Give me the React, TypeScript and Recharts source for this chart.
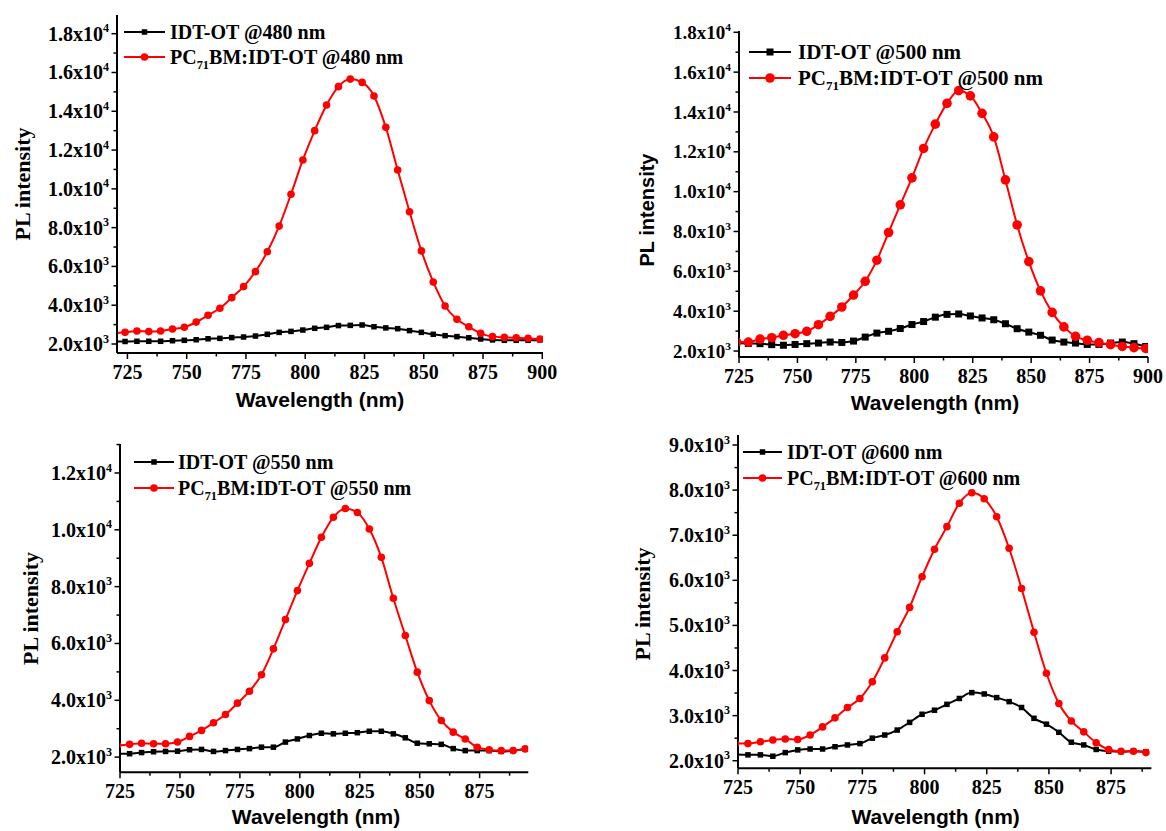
import React from "react";
import { LineChart, Line, XAxis, YAxis, Legend } from "recharts";

const SERIF = "'Times New Roman', 'Liberation Serif', serif";
const SANS = "Arial, 'Liberation Sans', sans-serif";

// ---- panel (a) 480 nm excitation
const wl480 = [719, 724, 729, 734, 739, 744, 749, 754, 759, 764, 769, 774, 779, 784, 789, 794, 799, 804, 809, 814, 819, 824, 829, 834, 839, 844, 849, 854, 859, 864, 869, 874, 879, 884, 889, 894, 899];
const idt480 = [2120, 2130, 2140, 2140, 2140, 2170, 2190, 2220, 2270, 2290, 2330, 2360, 2410, 2500, 2600, 2650, 2720, 2810, 2860, 2950, 2960, 2980, 2890, 2830, 2790, 2690, 2600, 2500, 2430, 2380, 2320, 2260, 2210, 2190, 2190, 2190, 2210];
const blend480 = [2550, 2600, 2670, 2640, 2670, 2770, 2860, 3130, 3480, 3840, 4390, 4960, 5730, 6760, 8080, 9720, 11490, 13000, 14320, 15270, 15660, 15490, 14790, 13170, 10970, 8820, 6800, 5200, 3960, 3270, 2890, 2550, 2380, 2340, 2320, 2300, 2250];

// ---- panel (b) 500 nm excitation
const wl500 = [724, 729, 734, 739, 744, 749, 754, 759, 764, 769, 774, 779, 784, 789, 794, 799, 804, 809, 814, 819, 824, 829, 834, 839, 844, 849, 854, 859, 864, 869, 874, 879, 884, 889, 894, 899];
const idt500 = [2400, 2380, 2370, 2320, 2290, 2330, 2370, 2400, 2450, 2430, 2500, 2700, 2900, 2990, 3130, 3330, 3480, 3700, 3840, 3860, 3760, 3660, 3570, 3370, 3120, 2950, 2790, 2550, 2450, 2400, 2330, 2330, 2400, 2450, 2370, 2230];
const blend500 = [2450, 2450, 2600, 2670, 2790, 2870, 2990, 3320, 3740, 4210, 4810, 5500, 6560, 7950, 9340, 10690, 12170, 13390, 14430, 15070, 14810, 13930, 12750, 10590, 8330, 6490, 5020, 3940, 3210, 2740, 2540, 2420, 2320, 2230, 2170, 2130];

// ---- panel (c) 550 nm excitation
const wl550 = [724, 729, 734, 739, 744, 749, 754, 759, 764, 769, 774, 779, 784, 789, 794, 799, 804, 809, 814, 819, 824, 829, 834, 839, 844, 849, 854, 859, 864, 869, 874, 879, 884, 889, 894];
const idt550 = [2120, 2120, 2160, 2190, 2200, 2210, 2260, 2270, 2200, 2230, 2270, 2300, 2350, 2350, 2530, 2640, 2760, 2840, 2820, 2840, 2860, 2910, 2910, 2820, 2680, 2490, 2470, 2450, 2300, 2230, 2230, 2230, 2200, 2230, 2290];
const blend550 = [2410, 2450, 2490, 2470, 2470, 2530, 2730, 2940, 3210, 3500, 3900, 4320, 4900, 5810, 6840, 7860, 8820, 9740, 10440, 10750, 10610, 10030, 9030, 7590, 6280, 4990, 3990, 3290, 2880, 2640, 2350, 2260, 2230, 2230, 2290];

// ---- panel (d) 600 nm excitation
const wl600 = [724, 729, 734, 739, 744, 749, 754, 759, 764, 769, 774, 779, 784, 789, 794, 799, 804, 809, 814, 819, 824, 829, 834, 839, 844, 849, 854, 859, 864, 869, 874, 879, 884, 889];
const idt600 = [2140, 2130, 2130, 2100, 2180, 2240, 2260, 2260, 2310, 2350, 2380, 2500, 2570, 2680, 2850, 3030, 3120, 3250, 3380, 3510, 3480, 3400, 3310, 3180, 2940, 2810, 2630, 2410, 2350, 2250, 2210, 2200, 2210, 2200];
const blend600 = [2380, 2380, 2420, 2460, 2480, 2470, 2570, 2750, 2950, 3180, 3380, 3750, 4280, 4860, 5400, 6080, 6690, 7190, 7710, 7940, 7810, 7410, 6710, 5820, 4850, 3940, 3270, 2880, 2640, 2400, 2250, 2210, 2210, 2180];

// tick values
const xMajor900 = [725, 750, 775, 800, 825, 850, 875, 900];
const xMinor900 = [737.5, 762.5, 787.5, 812.5, 837.5, 862.5, 887.5];
const xMajor875 = [725, 750, 775, 800, 825, 850, 875];
const xMinor875 = [737.5, 762.5, 787.5, 812.5, 837.5, 862.5, 887.5];
const yMajor18k = [2000, 4000, 6000, 8000, 10000, 12000, 14000, 16000, 18000];
const yMinor18k = [3000, 5000, 7000, 9000, 11000, 13000, 15000, 17000];
const yMajor12k = [2000, 4000, 6000, 8000, 10000, 12000];
const yMinor12k = [3000, 5000, 7000, 9000, 11000, 13000];
const yMajor9k = [2000, 3000, 4000, 5000, 6000, 7000, 8000, 9000];
const yMinor9k = [2500, 3500, 4500, 5500, 6500, 7500, 8500];

type Cfg = {
  frame: [number, number, number, number];
  xDomain: [number, number];
  yDomain: [number, number];
  xMajor: number[]; xMinor: number[]; yMajor: number[]; yMinor: number[];
  wl: number[]; idt: number[]; blend: number[];
  exc: string;
  xfs: number; yfs: number;
  xTitle: [number, number]; yTitle: [number, number]; yTitleFont: string; yTitleSize: number;
  legend: { x0: number; x1: number; tx: number; r1: number; r2: number; fs: number };
  sq: number; r: number; inTicks: boolean;
};

const panels: Cfg[] = [
  {
    frame: [117, 15, 543, 353], xDomain: [720.6, 900.3], yDomain: [1536, 18964],
    xMajor: xMajor900, xMinor: xMinor900, yMajor: yMajor18k, yMinor: yMinor18k,
    wl: wl480, idt: idt480, blend: blend480, exc: "@480 nm", xfs: 20, yfs: 20,
    xTitle: [320, 407], yTitle: [22, 184], yTitleFont: SERIF, yTitleSize: 22,
    legend: { x0: 124, x1: 165, tx: 170, r1: 32, r2: 57, fs: 20 }, sq: 5.5, r: 3.8, inTicks: false,
  },
  {
    frame: [739, 31, 1148, 357], xDomain: [725, 900], yDomain: [1700, 18065],
    xMajor: xMajor900, xMinor: xMinor900, yMajor: yMajor18k, yMinor: yMinor18k,
    wl: wl500, idt: idt500, blend: blend500, exc: "@500 nm", xfs: 20, yfs: 19,
    xTitle: [935, 410], yTitle: [647, 210], yTitleFont: SANS, yTitleSize: 20,
    legend: { x0: 749, x1: 791, tx: 798, r1: 52, r2: 78, fs: 21 }, sq: 7, r: 4.8, inTicks: true,
  },
  {
    frame: [120, 443.5, 528.3, 771.7], xDomain: [725, 895.3], yDomain: [1470, 13020],
    xMajor: xMajor875, xMinor: xMinor875, yMajor: yMajor12k, yMinor: yMinor12k,
    wl: wl550, idt: idt550, blend: blend550, exc: "@550 nm", xfs: 20, yfs: 20,
    xTitle: [316, 824], yTitle: [30, 608], yTitleFont: SERIF, yTitleSize: 22,
    legend: { x0: 134, x1: 174, tx: 178, r1: 462, r2: 488, fs: 20 }, sq: 5.5, r: 3.8, inTicks: false,
  },
  {
    frame: [738.3, 435, 1151.7, 768.3], xDomain: [725, 891.2], yDomain: [1832, 9222],
    xMajor: xMajor875, xMinor: xMinor875, yMajor: yMajor9k, yMinor: yMinor9k,
    wl: wl600, idt: idt600, blend: blend600, exc: "@600 nm", xfs: 20, yfs: 20,
    xTitle: [936, 824], yTitle: [643, 604], yTitleFont: SERIF, yTitleSize: 22,
    legend: { x0: 743, x1: 782, tx: 787, r1: 452, r2: 478, fs: 20 }, sq: 5.5, r: 3.8, inTicks: false,
  },
];

function expParts(v: number): [string, string] {
  const e = v >= 10000 ? 4 : 3;
  return [(v / Math.pow(10, e)).toFixed(1) + "x10", String(e)];
}

const YW = 130, XH = 80, PT = 10, PR = 15;

function Panel({ cfg }: { cfg: Cfg }) {
  const [x0, y0, x1, y1] = cfg.frame;
  const left = x0 - YW;
  const top = y0 - PT;
  const width = x1 - x0 + YW + PR;
  const height = y1 - y0 + PT + XH;
  const data = cfg.wl.map((w, i) => ({ wl: w, idt: cfg.idt[i], blend: cfg.blend[i] }));
  const xTicks = [...cfg.xMajor, ...cfg.xMinor].filter((t) => t >= cfg.xDomain[0] && t <= cfg.xDomain[1]).sort((a, b) => a - b);
  const yTicks = [...cfg.yMajor, ...cfg.yMinor].filter((t) => t >= cfg.yDomain[0] && t <= cfg.yDomain[1]).sort((a, b) => a - b);
  const lg = cfg.legend;
  const axisLine = { stroke: "#000", strokeWidth: 2 };

  const xTick = (p: any) => {
    const major = cfg.xMajor.includes(p.payload.value);
    return (
      <g key={"xt" + p.index}>
        <line x1={p.x} x2={p.x} y1={p.y} y2={p.y + (major ? 6 : 3.5)} stroke="#000" strokeWidth={1.5} />
        {major && (
          <text x={p.x} y={p.y + 26} textAnchor="middle" fontFamily={SERIF} fontWeight="bold" fontSize={cfg.xfs} fill="#000">
            {p.payload.value}
          </text>
        )}
      </g>
    );
  };
  const yTick = (p: any) => {
    const major = cfg.yMajor.includes(p.payload.value);
    const [m, e] = expParts(p.payload.value);
    return (
      <g key={"yt" + p.index}>
        <line x1={p.x} x2={p.x - (major ? 5.5 : 3.5)} y1={p.y} y2={p.y} stroke="#000" strokeWidth={1.5} />
        {major && (
          <text x={p.x - 8} y={p.y + cfg.yfs * 0.35} textAnchor="end" fontFamily={SERIF} fontWeight="bold" fontSize={cfg.yfs} fill="#000">
            <tspan>{m}</tspan>
            <tspan dy={-cfg.yfs * 0.42} fontSize={cfg.yfs * 0.6}>{e}</tspan>
          </text>
        )}
      </g>
    );
  };
  const topTick = (p: any) => {
    const major = cfg.xMajor.includes(p.payload.value);
    return <line key={"tt" + p.index} x1={p.x} x2={p.x} y1={p.y} y2={p.y + (major ? 5 : 3)} stroke="#000" strokeWidth={1.5} />;
  };
  const rightTick = (p: any) => {
    const major = cfg.yMajor.includes(p.payload.value);
    return <line key={"rt" + p.index} x1={p.x} x2={p.x - (major ? 5 : 3)} y1={p.y} y2={p.y} stroke="#000" strokeWidth={1.5} />;
  };

  const square = (p: any) => (
    <rect key={"sq" + p.index} x={p.cx - cfg.sq / 2} y={p.cy - cfg.sq / 2} width={cfg.sq} height={cfg.sq} fill="#000" />
  );

  const xTitle = () => (
    <text x={cfg.xTitle[0] - left} y={cfg.xTitle[1] - top} textAnchor="middle" fontFamily={SANS} fontWeight="bold" fontSize={21} fill="#000">
      Wavelength (nm)
    </text>
  );
  const yTitle = () => {
    const cx = cfg.yTitle[0] - left + cfg.yTitleSize * 0.35;
    const cy = cfg.yTitle[1] - top;
    return (
      <text x={cx} y={cy} transform={`rotate(-90 ${cx} ${cy})`} textAnchor="middle" fontFamily={cfg.yTitleFont} fontWeight="bold" fontSize={cfg.yTitleSize} fill="#000">
        PL intensity
      </text>
    );
  };

  const legendTop = lg.r1 - 15;
  const legendBox = () => {
    const rows = [
      { y: 15, color: "#000", kind: "sq" },
      { y: 15 + (lg.r2 - lg.r1), color: "#ff0000", kind: "ci" },
    ];
    const len = lg.x1 - lg.x0;
    const tx = lg.tx - lg.x0;
    return (
      <svg width={460} height={70} style={{ display: "block", overflow: "visible" }}>
        {rows.map((r, i) => (
          <g key={i}>
            <line x1={0} x2={len} y1={r.y} y2={r.y} stroke={r.color} strokeWidth={2} />
            {r.kind === "sq" ? (
              <rect x={len / 2 - cfg.sq / 2} y={r.y - cfg.sq / 2} width={cfg.sq} height={cfg.sq} fill={r.color} />
            ) : (
              <circle cx={len / 2} cy={r.y} r={cfg.r} fill={r.color} />
            )}
          </g>
        ))}
        <text x={tx} y={rows[0].y + lg.fs * 0.35} fontFamily={SERIF} fontWeight="bold" fontSize={lg.fs} fill="#000">
          {"IDT-OT " + cfg.exc}
        </text>
        <text x={tx} y={rows[1].y + lg.fs * 0.35} fontFamily={SERIF} fontWeight="bold" fontSize={lg.fs} fill="#000">
          <tspan>PC</tspan>
          <tspan dy={5} fontSize={lg.fs * 0.62}>71</tspan>
          <tspan dy={-5}>{"BM:IDT-OT " + cfg.exc}</tspan>
        </text>
      </svg>
    );
  };

  return (
    <div style={{ position: "absolute", left, top }}>
      <LineChart width={width} height={height} data={data} margin={{ top: PT, right: PR, left: 0, bottom: 0 }}>
        <XAxis dataKey="wl" type="number" domain={cfg.xDomain} allowDataOverflow ticks={xTicks} interval={0}
          tickSize={0} tickMargin={0} tickLine={false} height={XH} axisLine={axisLine} tick={xTick} label={xTitle} />
        <XAxis xAxisId="top" orientation="top" type="number" domain={cfg.xDomain} allowDataOverflow ticks={xTicks} interval={0}
          tickSize={0} tickMargin={0} tickLine={false} height={0} axisLine={axisLine} tick={cfg.inTicks ? topTick : false} />
        <YAxis type="number" domain={cfg.yDomain} allowDataOverflow ticks={yTicks} interval={0}
          tickSize={0} tickMargin={0} tickLine={false} width={YW} axisLine={axisLine} tick={yTick} label={yTitle} />
        <YAxis yAxisId="right" orientation="right" type="number" domain={cfg.yDomain} allowDataOverflow ticks={yTicks} interval={0}
          tickSize={0} tickMargin={0} tickLine={false} width={0} axisLine={axisLine} tick={cfg.inTicks ? rightTick : false} />
        <Legend verticalAlign="middle" align="center" layout="horizontal"
          wrapperStyle={{ left: lg.x0 - left, top: legendTop - top, width: 460, height: 70 }} content={legendBox} />
        <Line type="monotone" dataKey="idt" stroke="#000" strokeWidth={2} dot={square} activeDot={false} isAnimationActive={false} />
        <Line type="monotone" dataKey="blend" stroke="#ff0000" strokeWidth={2}
          dot={{ r: cfg.r, fill: "#ff0000", stroke: "#ff0000", strokeWidth: 0 }} activeDot={false} isAnimationActive={false} />
      </LineChart>
    </div>
  );
}

export default function App() {
  return (
    <div style={{ position: "absolute", left: 0, top: 0, width: 1166, height: 831, background: "#fff", overflow: "hidden" }}>
      {panels.map((p, i) => (
        <Panel key={i} cfg={p} />
      ))}
    </div>
  );
}
